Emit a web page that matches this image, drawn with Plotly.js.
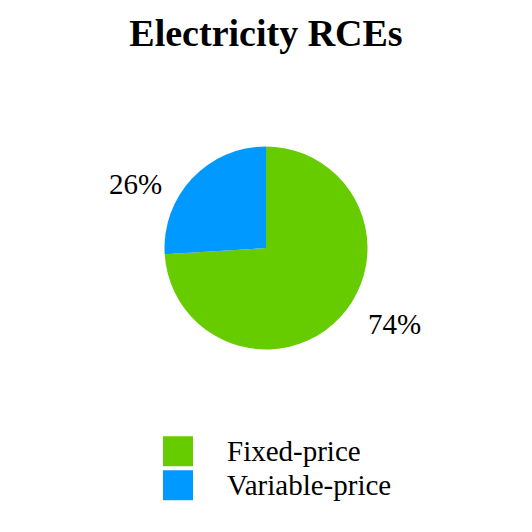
<!DOCTYPE html>
<html>
<head>
<meta charset="utf-8">
<script src="https://cdn.plot.ly/plotly-3.0.1.min.js"></script>
<style>html,body{margin:0;padding:0;background:#fff;}#chart{width:532px;height:532px;}</style>
</head>
<body>
<div id="chart"></div>
<script>
var categories = ["Fixed-price", "Variable-price"];
var values = [74, 26];
var colors = ["#66CC00", "#0099FF"];
var chartTitle = "Electricity RCEs";

var FONT = "Liberation Serif, Times New Roman, serif";
var total = values.reduce(function(a, b) { return a + b; }, 0);
var pctText = values.map(function(v) { return Math.round(v / total * 100) + "%"; });

var labelPos = [
  {x: 395 / 532, y: 1 - 324 / 532},
  {x: 135.5 / 532, y: 1 - 183.5 / 532}
];

var data = [{
  type: "pie",
  labels: categories,
  values: values,
  marker: {colors: colors, line: {width: 0}},
  sort: false,
  direction: "clockwise",
  rotation: 0,
  textinfo: "none",
  hoverinfo: "label+percent",
  domain: {x: [0, 1], y: [1 - 349.5 / 532, 1 - 146.5 / 532]}
}];

var annotations = pctText.map(function(t, i) {
  return {
    text: t, xref: "paper", yref: "paper",
    x: labelPos[i].x, y: labelPos[i].y,
    xanchor: "center", yanchor: "middle",
    showarrow: false,
    font: {family: FONT, size: 29, color: "#000"}
  };
});

var layout = {
  width: 532, height: 532,
  margin: {l: 0, r: 0, t: 0, b: 0},
  paper_bgcolor: "#fff",
  title: {
    text: "<b>" + chartTitle + "</b>",
    font: {family: FONT, size: 38, color: "#000"},
    x: 0.5, xanchor: "center",
    y: 1 - 32.5 / 532, yanchor: "middle", yref: "container"
  },
  showlegend: true,
  legend: {
    x: 129 / 532, xanchor: "left",
    y: 1 - 424.5 / 532, yanchor: "top",
    font: {family: FONT, size: 29, color: "#000"},
    itemwidth: 88,
    bgcolor: "rgba(0,0,0,0)"
  },
  annotations: annotations
};

Plotly.newPlot("chart", data, layout, {displayModeBar: false, staticPlot: true}).then(function() {
  document.querySelectorAll("#chart .legendpie").forEach(function(p) {
    p.setAttribute("d", "M15,16.5H-15V-13.5H15Z");
  });
  var items = document.querySelectorAll("#chart .legend .traces");
  var first = null;
  items.forEach(function(g, i) {
    var m = /translate\(\s*([-\d.]+)[ ,]+([-\d.]+)\s*\)/.exec(g.getAttribute("transform") || "");
    if (!m) return;
    var x = parseFloat(m[1]), y = parseFloat(m[2]);
    if (first === null) first = y;
    g.setAttribute("transform", "translate(" + x + "," + (first + i * 34) + ")");
  });
});
</script>
</body>
</html>
